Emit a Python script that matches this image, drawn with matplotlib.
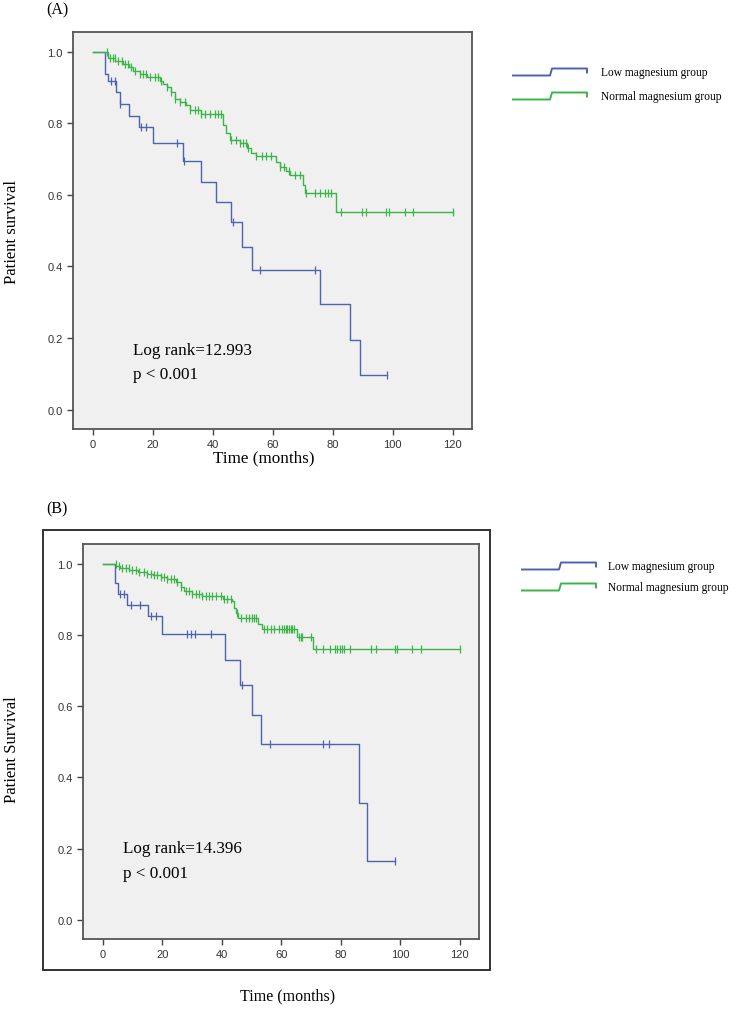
import numpy as np
import matplotlib.pyplot as plt
from matplotlib.lines import Line2D
from matplotlib.patches import Rectangle

# ---- Panel A data (Kaplan-Meier steps) ----
a_low_t = [0, 4.0, 5.1, 7.9, 9.2, 12.1, 15.4, 20.0, 30.1, 36.2, 41.0, 46.2, 49.9, 53.1, 75.9, 85.9, 89.0, 98.1]
a_low_s = [1.0, 0.938, 0.917, 0.887, 0.855, 0.821, 0.790, 0.744, 0.694, 0.637, 0.579, 0.523, 0.455, 0.390,
           0.294, 0.195, 0.097, 0.097]
a_low_c = [6.2, 7.3, 9.2, 16.2, 17.9, 28.0, 30.4, 46.8, 55.9, 74.0, 98.1]

a_norm_t = [0, 5.2, 7.5, 10.0, 12.0, 13.4, 15.7, 18.0, 22.3, 23.5, 24.6, 26.2, 27.3, 29.0, 31.2, 32.3, 36.0,
            43.4, 44.5, 45.7, 49.0, 51.5, 52.9, 54.6, 61.0, 62.3, 64.5, 65.7, 70.1, 70.7, 81.0, 120.0]
a_norm_s = [1.0, 0.981, 0.973, 0.966, 0.956, 0.947, 0.938, 0.929, 0.919, 0.910, 0.901, 0.887, 0.869, 0.859,
            0.850, 0.836, 0.826, 0.794, 0.772, 0.753, 0.744, 0.730, 0.716, 0.708, 0.693, 0.679, 0.667, 0.656,
            0.628, 0.606, 0.551, 0.551]
a_norm_c = [4.6, 5.7, 6.6, 7.3, 8.4, 9.6, 10.7, 11.8, 12.9, 14.0, 15.7, 16.8, 17.9, 19.0, 20.7, 21.8, 22.9,
            24.6, 26.2, 27.3, 29.0, 30.7, 32.3, 34.0, 35.1, 36.2, 37.3, 39.0, 40.7, 41.8, 42.9, 46.2, 47.9,
            49.0, 50.1, 51.2, 51.8, 54.6, 56.3, 57.9, 59.6, 62.3, 63.9, 65.6, 67.3, 69.0, 71.0, 74.0, 75.7,
            77.3, 78.4, 79.6, 82.9, 89.9, 91.2, 97.9, 98.8, 104.0, 106.8, 120.0]

# ---- Panel B data ----
b_low_t = [0, 4.1, 5.1, 8.3, 15.4, 20.1, 41.0, 46.2, 50.1, 53.1, 86.2, 89.0, 98.3]
b_low_s = [1.0, 0.946, 0.915, 0.885, 0.852, 0.803, 0.730, 0.660, 0.575, 0.493, 0.329, 0.164, 0.164]
b_low_c = [5.8, 7.2, 9.4, 12.4, 16.1, 18.0, 28.2, 29.8, 30.9, 36.3, 46.8, 56.1, 74.1, 76.1, 98.3]

b_norm_t = [0, 4.5, 6.0, 9.0, 12.0, 15.0, 17.0, 19.5, 21.7, 24.5, 26.2, 27.5, 30.0, 33.5, 40.5, 43.6, 44.1,
            44.8, 45.5, 52.3, 53.7, 65.3, 70.8, 120.0]
b_norm_s = [1.0, 0.994, 0.987, 0.982, 0.977, 0.972, 0.968, 0.963, 0.958, 0.949, 0.935, 0.924, 0.916, 0.909,
            0.901, 0.896, 0.874, 0.860, 0.847, 0.829, 0.817, 0.794, 0.759, 0.759]
b_norm_c = [4.4, 5.5, 6.6, 7.7, 8.9, 10.0, 11.1, 12.2, 13.9, 15.0, 16.1, 17.2, 18.4, 19.5, 20.6, 21.7, 22.9,
            24.0, 25.1, 26.2, 27.9, 29.0, 30.1, 31.3, 32.4, 33.5, 34.6, 35.7, 36.9, 38.0, 39.7, 40.8, 41.9,
            43.0, 45.3, 46.4, 48.1, 49.2, 50.3, 50.9, 51.4, 54.2, 55.4, 56.5, 57.6, 59.3, 60.4, 60.9, 61.5,
            62.1, 62.6, 63.2, 63.8, 64.3, 66.0, 66.6, 67.1, 69.9, 71.6, 74.1, 76.3, 78.1, 78.9, 79.7, 80.3,
            81.1, 83.0, 90.1, 92.0, 98.2, 99.1, 104.1, 106.9, 120.0]

x_ticks = [0, 20, 40, 60, 80, 100, 120]
y_ticks = [0.0, 0.2, 0.4, 0.6, 0.8, 1.0]
group_names = ['Low magnesium group', 'Normal magnesium group']

BLUE = '#4f63ad'
GREEN = '#3db449'
SERIF = ['Liberation Serif', 'DejaVu Serif']
SANS = ['Liberation Sans', 'DejaVu Sans']
W, H = 748, 1020


def km_curve(ax, t, s, cens, color):
    t = np.asarray(t)
    s = np.asarray(s)
    ax.step(t, s, where='post', color=color, lw=1.0)
    idx = np.searchsorted(t, cens, side='right') - 1
    ax.plot(cens, s[idx], ls='none', marker='|', ms=6, mew=0.9, color=color)


def style_axes(ax):
    ax.set_facecolor('#f0f0f0')
    ax.set_xlim(-6.6, 126.5)
    ax.set_ylim(-0.054, 1.055)
    ax.set_xticks(x_ticks)
    ax.set_yticks(y_ticks)
    ax.set_yticklabels(['%.1f' % v for v in y_ticks])
    ax.tick_params(direction='out', length=4.5, width=1, color='#444', labelsize=8,
                   labelcolor='#333', pad=3)
    for lab in ax.get_xticklabels() + ax.get_yticklabels():
        lab.set_family(SANS)
    for sp in ax.spines.values():
        sp.set_color('#555')
        sp.set_linewidth(1.3)


def legend_glyphs(y_low, y_norm, x0, x_text):
    # small step-shaped key like the SPSS output
    for y, color, name in [(y_low, BLUE, group_names[0]), (y_norm, GREEN, group_names[1])]:
        xs = np.array([x0, x0 + 37, x0 + 39, x0 + 74, x0 + 74])
        ys = np.array([y + 3.5, y + 3.5, y - 3.5, y - 3.5, y + 0.5])
        fig.add_artist(Line2D(xs / W, 1 - ys / H, color=color, lw=1.4, transform=fig.transFigure))
        fig.text(x_text / W, 1 - y / H, name, family=SERIF, fontsize=8.3, va='center', ha='left')


fig = plt.figure(figsize=(7.48, 10.2), dpi=100)

# ---- Panel A ----
axA = fig.add_axes([73 / W, 1 - 430 / H, 399 / W, 397 / H])
style_axes(axA)
km_curve(axA, a_low_t, a_low_s, a_low_c, BLUE)
km_curve(axA, a_norm_t, a_norm_s, a_norm_c, GREEN)
axA.text(0.15, 0.20, 'Log rank=12.993', transform=axA.transAxes, family=SERIF, fontsize=12.3, va='center')
axA.text(0.15, 0.139, 'p < 0.001', transform=axA.transAxes, family=SERIF, fontsize=12.3, va='center')
fig.text(57 / W, 1 - 10 / H, '(A)', family=SERIF, fontsize=11.5, ha='center', va='center')
fig.text(12 / W, 1 - 232 / H, 'Patient survival', family=SERIF, fontsize=12, rotation=90,
         ha='center', va='center')
fig.text(213 / W, 1 - 458 / H, 'Time (months)', family=SERIF, fontsize=12.3, ha='left', va='center')
legend_glyphs(73, 97, 513, 601)

# ---- Panel B ----
fig.add_artist(Rectangle((43 / W, 1 - 971 / H), 447 / W, 440 / H, transform=fig.transFigure,
                         fill=False, edgecolor='#222', lw=1.3))
axB = fig.add_axes([83 / W, 1 - 940 / H, 396 / W, 395 / H])
style_axes(axB)
km_curve(axB, b_low_t, b_low_s, b_low_c, BLUE)
km_curve(axB, b_norm_t, b_norm_s, b_norm_c, GREEN)
axB.text(0.10, 0.23, 'Log rank=14.396', transform=axB.transAxes, family=SERIF, fontsize=12.3, va='center')
axB.text(0.10, 0.167, 'p < 0.001', transform=axB.transAxes, family=SERIF, fontsize=12.3, va='center')
fig.text(57 / W, 1 - 509 / H, '(B)', family=SERIF, fontsize=11.5, ha='center', va='center')
fig.text(12 / W, 1 - 750 / H, 'Patient Survival', family=SERIF, fontsize=12, rotation=90,
         ha='center', va='center')
fig.text(240 / W, 1 - 996 / H, 'Time (months)', family=SERIF, fontsize=11.5, ha='left', va='center')
legend_glyphs(567, 588, 522, 608)

fig.savefig('out.png', dpi=100)
